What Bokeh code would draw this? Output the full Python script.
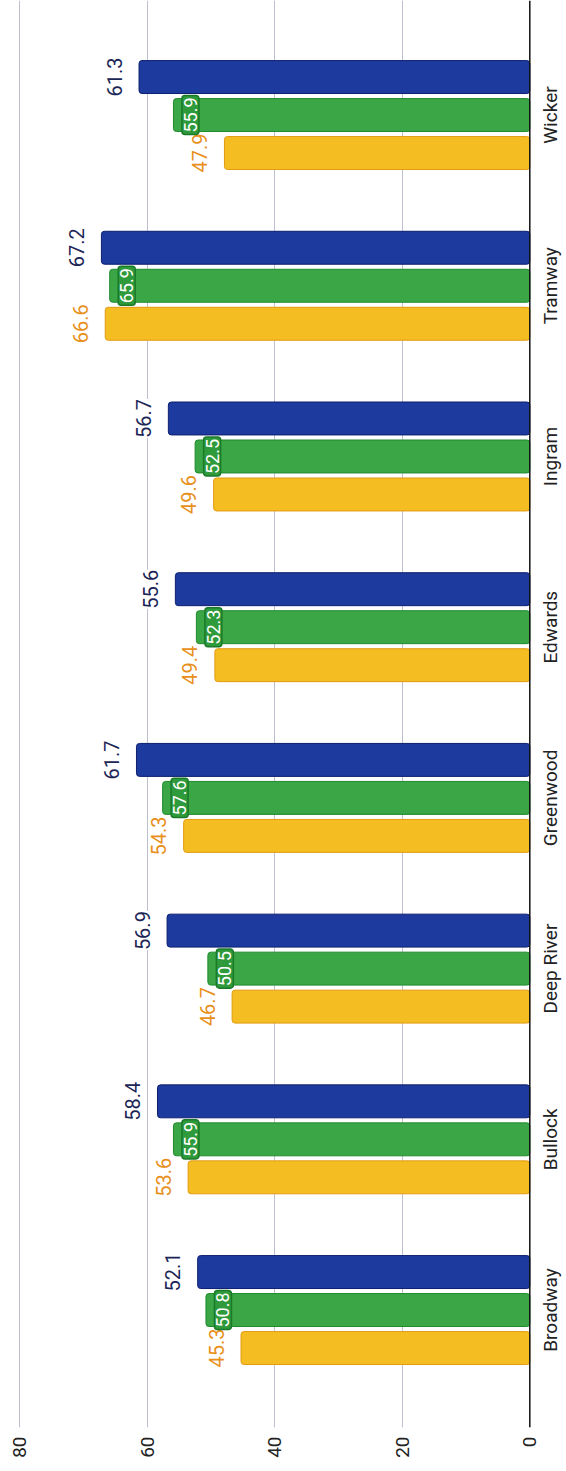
import math
from bokeh.plotting import figure
from bokeh.models import ColumnDataSource, Range1d, FixedTicker, Span
from bokeh.transform import dodge
from bokeh.core.properties import value
from bokeh.embed import file_html
from bokeh.resources import INLINE

categories = ["Broadway", "Bullock", "Deep River", "Greenwood", "Edwards", "Ingram", "Tramway", "Wicker"]
series_yellow = [45.3, 53.6, 46.7, 54.3, 49.4, 49.6, 66.6, 47.9]
series_green = [50.8, 55.9, 50.5, 57.6, 52.3, 52.5, 65.9, 55.9]
series_blue = [52.1, 58.4, 56.9, 61.7, 55.6, 56.7, 67.2, 61.3]
value_ticks = [0, 20, 40, 60, 80]

pos = list(range(len(categories)))
src = ColumnDataSource(dict(
    pos=pos, cat=categories, zero=[0] * len(categories),
    yellow=series_yellow, green=series_green, blue=series_blue,
    yellow_lbl=[f"{v:.1f}" for v in series_yellow],
    green_lbl=[f"{v:.1f}" for v in series_green],
    blue_lbl=[f"{v:.1f}" for v in series_blue],
))

FONT = value("Roboto")
BAR_H = 0.193
STEP = 0.2226

p = figure(width=566, height=1471, output_backend="svg", toolbar_location=None,
           x_range=Range1d(83.03, -5.757), y_range=Range1d(-0.688, 7.671),
           y_axis_location=None,
           min_border_left=0, min_border_top=0, min_border_right=0, min_border_bottom=44)
p.outline_line_color = None
p.background_fill_color = "white"

# value axis (bottom)
xa = p.xaxis[0]
xa.ticker = FixedTicker(ticks=value_ticks)
xa.major_label_orientation = math.pi / 2
xa.axis_line_color = None
xa.major_tick_line_color = None
xa.minor_tick_line_color = None
xa.major_tick_out = 0
xa.major_tick_in = 0
xa.major_label_standoff = 9
xa.major_label_text_font = "Roboto"
xa.major_label_text_font_size = "19px"
xa.major_label_text_color = "#222222"

# vertical grid lines (the 0 line is the category axis line)
p.xgrid.ticker = FixedTicker(ticks=[t for t in value_ticks if t != 0])
p.xgrid.grid_line_color = "#bcc0d0"
p.xgrid.grid_line_width = 1
p.ygrid.grid_line_color = None

# bars
p.hbar(y=dodge("pos", -STEP), left=0, right="yellow", height=BAR_H, source=src,
       fill_color="#f4bd22", line_color="#e39a12", line_width=1, border_radius=3)
p.hbar(y="pos", left=0, right="green", height=BAR_H, source=src,
       fill_color="#3aa645", line_color="#1f8a2d", line_width=1, border_radius=3)
p.hbar(y=dodge("pos", STEP), left=0, right="blue", height=BAR_H, source=src,
       fill_color="#1d3a9e", line_color="#0e1f6e", line_width=1, border_radius=3)

# category axis line at value 0
p.add_layout(Span(location=0, dimension="height", line_color="#111111", line_width=1.5))

# category labels
p.text(x="zero", y="pos", text="cat", source=src,
       angle=math.pi / 2, x_offset=21, text_align="center", text_baseline="middle",
       text_font=FONT, text_font_size="19px", text_color="#222222")

# value labels
p.text(x="yellow", y=dodge("pos", -STEP), text="yellow_lbl", source=src,
       angle=math.pi / 2, x_offset=-25, text_align="center", text_baseline="alphabetic",
       text_font=FONT, text_font_size="20px", text_color="#e8901c",
       background_fill_color="white")
p.text(x="blue", y=dodge("pos", STEP), text="blue_lbl", source=src,
       angle=math.pi / 2, x_offset=-25, text_align="center", text_baseline="alphabetic",
       text_font=FONT, text_font_size="20px", text_color="#1c2656",
       background_fill_color="white")
p.text(x="green", y="pos", text="green_lbl", source=src,
       angle=math.pi / 2, x_offset=17, text_align="center", text_baseline="middle",
       text_font=FONT, text_font_size="18px", text_color="white",
       background_fill_color="#2f9a3c", border_line_color="#1b7a2a", border_line_width=1.5,
       padding=2, border_radius=3)

open("out.html", "w").write(file_html(p, INLINE))
